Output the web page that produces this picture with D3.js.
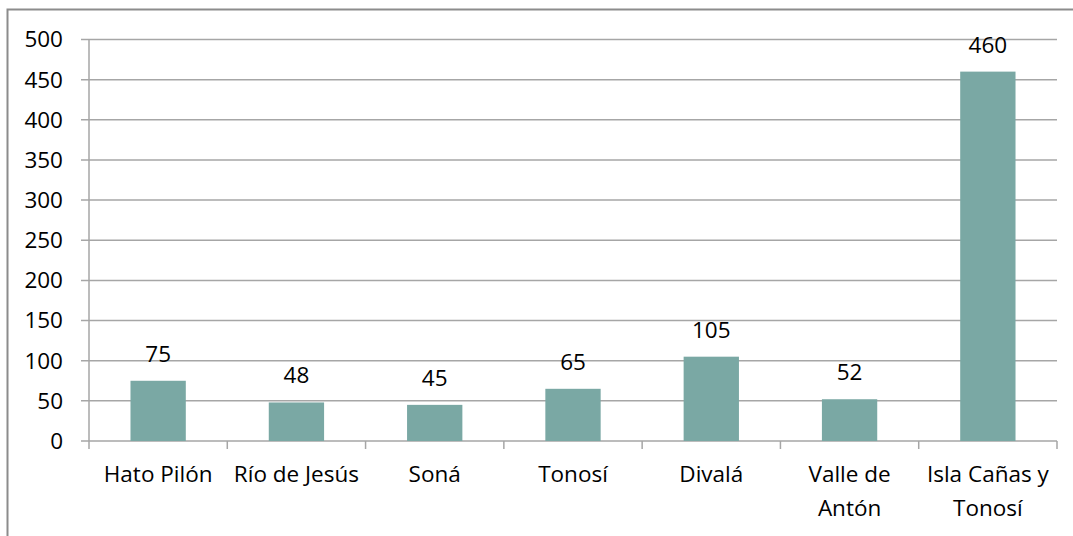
<!DOCTYPE html>
<html>
<head>
<meta charset="utf-8">
<script src="https://cdn.jsdelivr.net/npm/d3@7"></script>
<style>
  body { margin: 0; background: #fff; }
  svg text { font-family: "Open Sans", sans-serif; fill: #000; }
</style>
</head>
<body>
<svg id="chart"></svg>
<script>
// chart data
const categories = ['Hato Pilón', 'Río de Jesús', 'Soná', 'Tonosí', 'Divalá', 'Valle de Antón', 'Isla Cañas y Tonosí'];
const values = [75, 48, 45, 65, 105, 52, 460];
const yTicks = [0, 50, 100, 150, 200, 250, 300, 350, 400, 450, 500];

const config = {
  width: 1073,
  height: 536,
  margin: { top: 39.5, right: 16, bottom: 95, left: 89 },
  barColor: '#7AA8A4',
  gridColor: '#A6A6A6',
  fontSize: 22.5
};

const svg = d3.select('#chart')
  .attr('width', config.width)
  .attr('height', config.height);

const innerW = config.width - config.margin.left - config.margin.right;
const innerH = 441 - config.margin.top;

// outer frame (right and bottom edges fall outside the picture)
svg.append('rect')
  .attr('x', 7.5).attr('y', 9.5)
  .attr('width', 1080).attr('height', 540)
  .attr('fill', 'none')
  .attr('stroke', '#8C8C8C')
  .attr('stroke-width', 2);

const g = svg.append('g')
  .attr('transform', `translate(${config.margin.left},${config.margin.top})`);

const x = d3.scaleBand()
  .domain(categories)
  .range([0, innerW])
  .paddingInner(0.6)
  .paddingOuter(0.3);

const y = d3.scaleLinear()
  .domain([0, 500])
  .range([innerH, 0]);

// gridlines + y ticks
g.selectAll('.grid')
  .data(yTicks)
  .join('line')
    .attr('class', 'grid')
    .attr('x1', -8)
    .attr('x2', innerW)
    .attr('y1', d => y(d))
    .attr('y2', d => y(d))
    .attr('stroke', config.gridColor)
    .attr('stroke-width', 1.5);

g.selectAll('.ylabel')
  .data(yTicks)
  .join('text')
    .attr('class', 'ylabel')
    .attr('x', -26)
    .attr('y', d => y(d))
    .attr('dy', '0.35em')
    .attr('text-anchor', 'end')
    .attr('font-size', config.fontSize)
    .text(d => d);

// y axis line
g.append('line')
  .attr('x1', 0).attr('x2', 0)
  .attr('y1', 0).attr('y2', innerH)
  .attr('stroke', config.gridColor)
  .attr('stroke-width', 1.5);

// category boundary ticks
const step = x.step();
g.selectAll('.xtick')
  .data(d3.range(categories.length + 1))
  .join('line')
    .attr('class', 'xtick')
    .attr('x1', i => i * step)
    .attr('x2', i => i * step)
    .attr('y1', innerH)
    .attr('y2', innerH + 8)
    .attr('stroke', config.gridColor)
    .attr('stroke-width', 1.5);

// bars
g.selectAll('.bar')
  .data(values)
  .join('rect')
    .attr('class', 'bar')
    .attr('x', (d, i) => x(categories[i]))
    .attr('width', x.bandwidth())
    .attr('y', d => y(d))
    .attr('height', d => innerH - y(d))
    .attr('fill', config.barColor);

// value labels
g.selectAll('.value')
  .data(values)
  .join('text')
    .attr('class', 'value')
    .attr('x', (d, i) => x(categories[i]) + x.bandwidth() / 2)
    .attr('y', d => y(d) - 19)
    .attr('text-anchor', 'middle')
    .attr('font-size', config.fontSize)
    .text(d => d);

// category labels, wrapped to the band width
const xLabels = g.selectAll('.xlabel')
  .data(categories)
  .join('text')
    .attr('class', 'xlabel')
    .attr('x', d => x(d) + x.bandwidth() / 2)
    .attr('y', innerH + 41)
    .attr('text-anchor', 'middle')
    .attr('font-size', config.fontSize);

xLabels.each(function(d) {
  const text = d3.select(this);
  const cx = +text.attr('x');
  const words = d.split(' ');
  let line = [];
  let lineNo = 0;
  let tspan = text.append('tspan').attr('x', cx).attr('dy', 0);
  words.forEach(w => {
    line.push(w);
    tspan.text(line.join(' '));
    if (tspan.node().getComputedTextLength() > step - 4 && line.length > 1) {
      line.pop();
      tspan.text(line.join(' '));
      line = [w];
      lineNo++;
      tspan = text.append('tspan').attr('x', cx).attr('dy', '1.5em').text(w);
    }
  });
});
</script>
</body>
</html>
